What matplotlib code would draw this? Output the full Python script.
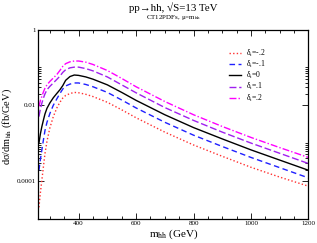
import matplotlib
matplotlib.use("Agg")
import matplotlib.pyplot as plt
from matplotlib.ticker import FixedLocator, NullFormatter, MultipleLocator

plt.rcParams['font.family'] = ['Liberation Serif', 'DejaVu Serif']
plt.rcParams['mathtext.fontset'] = 'stix'

# invariant mass of the Higgs pair (GeV)
m_hh = [262, 267, 272, 278, 283, 290, 300, 312, 325, 335, 345, 355, 370,
        385, 400, 425, 450, 500, 550, 600, 700, 800, 900, 1000, 1100, 1200]

# dsigma/dm_hh (fb/GeV) for each delta_t
xs_m02 = [0.0000200, 0.0000479, 0.000102, 0.000251, 0.000525, 0.00112,
          0.00251, 0.00501, 0.00871, 0.0120, 0.0155, 0.0182, 0.0204,
          0.0219, 0.0214, 0.0195, 0.0170, 0.0120, 0.00759, 0.00468,
          0.00195, 0.000891, 0.000447, 0.000229, 0.000126, 0.0000724]
xs_m01 = [0.000191, 0.000363, 0.000646, 0.00126, 0.00214, 0.00355,
          0.00603, 0.0100, 0.0151, 0.0204, 0.0269, 0.0324, 0.0363,
          0.0389, 0.0389, 0.0355, 0.0309, 0.0219, 0.0138, 0.00851,
          0.00355, 0.00162, 0.000813, 0.000417, 0.000224, 0.000120]
xs_0 = [0.00100, 0.00174, 0.00269, 0.00417, 0.00589, 0.00832,
        0.0115, 0.0158, 0.0209, 0.0257, 0.0331, 0.0457, 0.0575,
        0.0631, 0.0617, 0.0562, 0.0490, 0.0347, 0.0219, 0.0135,
        0.00562, 0.00257, 0.00129, 0.000661, 0.000355, 0.000191]
xs_p01 = [0.00501, 0.00794, 0.0112, 0.0158, 0.0200, 0.0257,
          0.0316, 0.0389, 0.0490, 0.0589, 0.0741, 0.0871, 0.0977,
          0.102, 0.102, 0.0933, 0.0813, 0.0562, 0.0347, 0.0214,
          0.00871, 0.00398, 0.00195, 0.00100, 0.000537, 0.000288]
xs_p02 = [0.00933, 0.0132, 0.0170, 0.0229, 0.0282, 0.0347,
          0.0427, 0.0525, 0.0661, 0.0832, 0.107, 0.126, 0.141,
          0.148, 0.148, 0.138, 0.120, 0.0832, 0.0513, 0.0309,
          0.0126, 0.00562, 0.00275, 0.00141, 0.000759, 0.000417]

labels = ["δ$_{\\rm t}$=-.2", "δ$_{\\rm t}$=-.1", "δ$_{\\rm t}$=0",
          "δ$_{\\rm t}$=.1", "δ$_{\\rm t}$=.2"]

x_ticks = [400, 600, 800, 1000, 1200]
y_ticks = [1e-4, 1e-2, 1]
y_ticklabels = ["0.0001", "0.01", "1"]

fig = plt.figure(figsize=(3.17, 2.43), dpi=100)
ax = fig.add_axes([0.121, 0.100, 0.852, 0.778])

styles = [
    dict(color='#ff3030', linestyle=(0, (1, 1.6)), lw=1.0),
    dict(color='#2020ff', linestyle=(0, (4, 2.5)), lw=1.0),
    dict(color='black', linestyle='-', lw=1.0),
    dict(color='#a020f0', linestyle=(0, (5, 2)), lw=1.0),
    dict(color='#ff00ff', linestyle=(0, (5, 1.5, 1, 1.5)), lw=1.0),
]
series = [xs_m02, xs_m01, xs_0, xs_p01, xs_p02]
for ys, st, lab in zip(series, styles, labels):
    ax.plot(m_hh, ys, label=lab, **st)

ax.set_yscale('log')
ax.set_xlim(260, 1200)
ax.set_ylim(1e-5, 1)

ax.xaxis.set_major_locator(FixedLocator(x_ticks))
ax.xaxis.set_minor_locator(MultipleLocator(50))
ax.set_xticklabels([str(t) for t in x_ticks])
ax.yaxis.set_major_locator(FixedLocator(y_ticks))
ax.set_yticklabels(y_ticklabels)
minor_y = [k * 10.0**e for e in (-6, -4, -2) for k in range(2, 11)]
ax.yaxis.set_minor_locator(FixedLocator(minor_y))
ax.yaxis.set_minor_formatter(NullFormatter())

ax.tick_params(which='both', direction='in', top=True, right=True,
               labelsize=5, pad=2, width=0.6)
ax.tick_params(which='major', length=4)
ax.tick_params(which='minor', length=2)
for s in ax.spines.values():
    s.set_linewidth(0.9)

ax.set_xlabel("m$_{\\rm hh}$ (GeV)", fontsize=8, labelpad=1)
fig.text(0.024, 0.48, "dσ/dm$_{\\rm hh}$ (fb/GeV)", rotation=90,
         ha='center', va='center', fontsize=7.5)

fig.text(0.548, 0.967, "pp→hh, √S=13 TeV", ha='center', va='center', fontsize=7.8)
fig.text(0.548, 0.926, "CT12PDFs, μ=m$_{\\rm hh}$", ha='center', va='center', fontsize=5)

ax.legend(loc='upper left', bbox_to_anchor=(0.705, 0.905), frameon=False,
          fontsize=5.5, handlelength=1.6, handletextpad=0.7, labelspacing=0.0,
          borderpad=0, borderaxespad=0)

fig.savefig("out.png", dpi=100)
